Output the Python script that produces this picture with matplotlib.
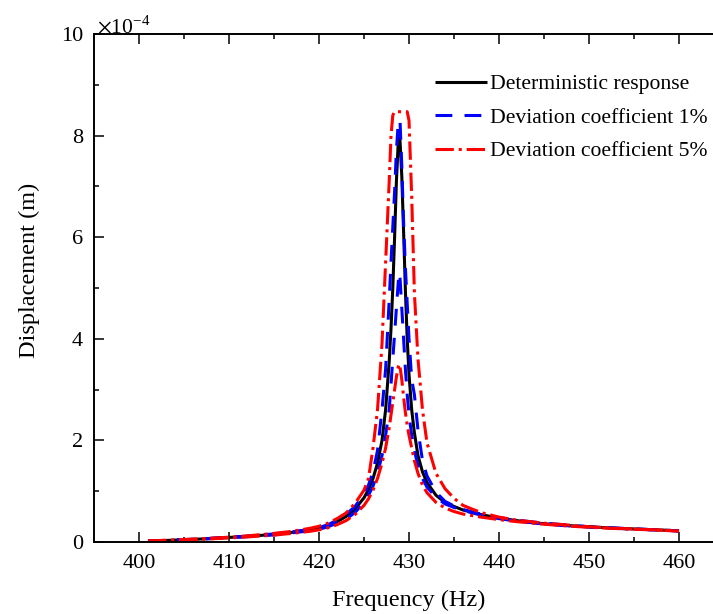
import matplotlib
matplotlib.use("Agg")
import matplotlib.pyplot as plt

plt.rcParams['font.family'] = ['Liberation Serif', 'DejaVu Serif']
plt.rcParams['mathtext.fontset'] = 'stix'

# Frequency grid (Hz)
freq = [401, 403, 405, 407, 410, 412, 415, 417, 419, 420, 421, 422, 423, 424, 425,
        425.5, 426, 426.5, 427, 427.4, 427.8, 428.0, 428.2, 428.4, 428.6, 428.8,
        428.9, 429.0, 429.2, 429.4, 429.6, 429.8, 430.0, 430.3, 430.6, 431.0, 431.5,
        432.0, 433, 434, 435, 436, 438, 440, 442, 445, 448, 450, 453, 456, 460]

# Displacement values in units of 1e-4 m
deterministic = [0.02, 0.03, 0.045, 0.06, 0.09, 0.11, 0.15, 0.19, 0.24, 0.27, 0.32, 0.40, 0.50, 0.65, 0.87,
                 1.03, 1.25, 1.55, 2.0, 2.6, 3.55, 4.2, 5.0, 6.0, 7.1, 7.85,
                 8.0, 7.9, 7.2, 6.1, 4.95, 4.0, 3.3, 2.6, 2.15, 1.7, 1.38,
                 1.17, 0.92, 0.78, 0.70, 0.63, 0.54, 0.47, 0.42, 0.36, 0.32, 0.30, 0.27, 0.25, 0.22]

dev1_upper = [0.02, 0.032, 0.047, 0.062, 0.092, 0.115, 0.16, 0.20, 0.25, 0.285, 0.34, 0.43, 0.54, 0.70, 0.94,
              1.12, 1.38, 1.8, 2.6, 3.4, 4.76, 5.5, 6.2, 6.9, 7.7, 8.25,
              8.3, 8.3, 7.4, 6.3, 5.4, 4.7, 4.0, 3.2, 2.9, 2.2, 1.6,
              1.3, 0.98, 0.80, 0.71, 0.64, 0.55, 0.48, 0.43, 0.37, 0.33, 0.30, 0.275, 0.25, 0.22]

dev1_lower = [0.018, 0.028, 0.042, 0.057, 0.085, 0.105, 0.14, 0.18, 0.22, 0.25, 0.30, 0.37, 0.45, 0.58, 0.78,
              0.92, 1.1, 1.35, 1.7, 2.1, 2.6, 3.1, 3.6, 4.1, 4.6, 5.1,
              5.3, 5.2, 4.6, 4.0, 3.4, 2.9, 2.5, 2.1, 1.8, 1.5, 1.25,
              1.08, 0.88, 0.75, 0.68, 0.62, 0.53, 0.46, 0.41, 0.355, 0.315, 0.295, 0.268, 0.248, 0.218]

dev5_upper = [0.02, 0.035, 0.05, 0.065, 0.095, 0.12, 0.17, 0.21, 0.27, 0.31, 0.37, 0.46, 0.57, 0.76, 1.02,
              1.25, 1.85, 2.6, 3.9, 5.5, 7.1, 8.0, 8.4, 8.47, 8.47, 8.47,
              8.47, 8.47, 8.47, 8.47, 8.47, 8.47, 8.3, 6.8, 4.9, 3.6, 2.6,
              1.95, 1.35, 1.05, 0.86, 0.72, 0.58, 0.49, 0.43, 0.37, 0.33, 0.30, 0.27, 0.25, 0.22]

dev5_lower = [0.015, 0.025, 0.04, 0.053, 0.08, 0.10, 0.135, 0.17, 0.21, 0.24, 0.28, 0.34, 0.42, 0.54, 0.72,
              0.85, 1.02, 1.25, 1.55, 1.85, 2.25, 2.5, 2.75, 3.0, 3.25, 3.45,
              3.5, 3.45, 3.2, 2.85, 2.55, 2.3, 2.1, 1.85, 1.6, 1.35, 1.12,
              0.97, 0.78, 0.67, 0.60, 0.55, 0.49, 0.44, 0.40, 0.35, 0.31, 0.29, 0.265, 0.245, 0.215]

labels = ['Deterministic response', 'Deviation coefficient 1%', 'Deviation coefficient 5%']
xticks = [400, 410, 420, 430, 440, 450, 460]
yticks = [0, 2, 4, 6, 8, 10]

W, H = 713, 614
fig = plt.figure(figsize=(W / 100, H / 100), dpi=100)
left, right, top, bottom = 94, 724, 34, 542
ax = fig.add_axes([left / W, 1 - bottom / H, (right - left) / W, (bottom - top) / H])

lw = 2.2
dash_blue = (0, (5.5, 4))
dash_red = (0, (6, 1.6, 1, 1.6))
l1, = ax.plot(freq, deterministic, color='black', lw=lw, solid_capstyle='butt')
l2, = ax.plot(freq, dev1_upper, color='#0000FF', lw=lw, linestyle=dash_blue)
ax.plot(freq, dev1_lower, color='#0000FF', lw=lw, linestyle=dash_blue)
l3, = ax.plot(freq, dev5_upper, color='#FF0000', lw=lw, linestyle=dash_red)
ax.plot(freq, dev5_lower, color='#FF0000', lw=lw, linestyle=dash_red)

ax.set_xlim(395, 465)
ax.set_ylim(0, 10)
ax.set_xticks(xticks)
ax.set_xticks([405, 415, 425, 435, 445, 455], minor=True)
ax.set_yticks(yticks)
ax.set_yticks([1, 3, 5, 7, 9], minor=True)
ax.tick_params(which='both', direction='in', top=True, right=False, width=1.1, labelsize=16)
ax.tick_params(which='major', length=7)
ax.tick_params(which='minor', length=3.6)
ax.tick_params(axis='y', pad=8)
ax.tick_params(axis='x', pad=9)
for s in ax.spines.values():
    s.set_linewidth(1.4)

ax.set_xlabel('Frequency (Hz)', fontsize=17.5, labelpad=12)
ax.set_ylabel('Displacement (m)', fontsize=17.5)
ax.yaxis.set_label_coords(-0.085, 0.535)

fig.text(97 / W, 1 - 33 / H, r'$\times$10$^{\mathregular{-4}}$', fontsize=15.5, va='baseline', ha='left')

leg = fig.legend([l1, l2, l3], labels, loc='upper left', bbox_to_anchor=(435 / W, 1 - 74 / H),
                 frameon=False, fontsize=15.6, handlelength=2.4, handletextpad=0.15,
                 labelspacing=0.62, borderpad=0, borderaxespad=0)

fig.savefig('out.png', dpi=100)
